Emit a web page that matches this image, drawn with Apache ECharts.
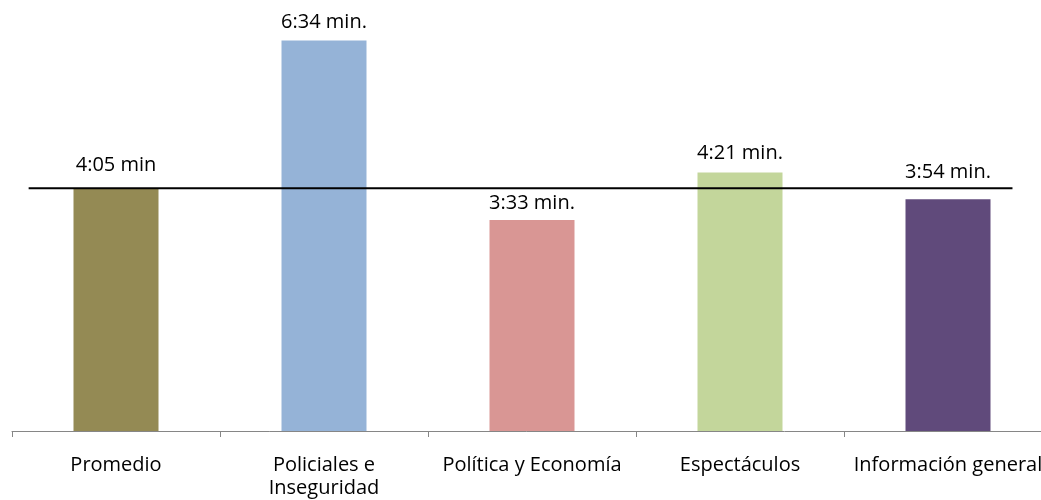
<!DOCTYPE html>
<html>
<head>
<meta charset="utf-8">
<script src="https://cdn.jsdelivr.net/npm/echarts@6/dist/echarts.min.js"></script>
<style>
html,body{margin:0;padding:0;background:#fff;}
#chart{width:1041px;height:500px;}
</style>
</head>
<body>
<div id="chart"></div>
<script>
const categories = ['Promedio', 'Policiales e\nInseguridad', 'Política y Economía', 'Espectáculos', 'Información general'];
const secondsValues = [245, 394, 213, 261, 234];
const valueLabels = ['4:05 min', '6:34 min.', '3:33 min.', '4:21 min.', '3:54 min.'];
const averageLineX = [0.08, 4.81];
const averageLineY = [245, 245];
const barColors = ['#948A54', '#95B3D7', '#D99694', '#C3D69B', '#604A7B'];
const labelDistances = [13, 8, 7, 9, 17];

const chart = echarts.init(document.getElementById('chart'));
const font = 'Open Sans';
chart.setOption({
  animation: false,
  backgroundColor: '#ffffff',
  textStyle: { fontFamily: font },
  grid: { left: 12, top: 0, width: 1040, height: 431, containLabel: false, outerBoundsMode: 'none' },
  xAxis: [
    {
      type: 'category',
      data: categories,
      axisLine: { lineStyle: { color: '#868686', width: 1 } },
      axisTick: { show: true, length: 6, lineStyle: { color: '#868686' } },
      axisLabel: { color: '#000', fontSize: 20, fontFamily: font, margin: 23, lineHeight: 23, interval: 0, hideOverlap: false },
      splitLine: { show: false }
    },
    {
      type: 'value', min: 0, max: 5, show: false, position: 'bottom'
    }
  ],
  yAxis: { type: 'value', min: 0, max: 435, show: false, splitLine: { show: false } },
  series: [
    {
      type: 'bar',
      barWidth: 85,
      data: secondsValues.map((v, i) => ({
        value: v,
        itemStyle: { color: barColors[i] },
        label: { distance: labelDistances[i] }
      })),
      label: {
        show: true, position: 'top', color: '#000', fontSize: 20, fontFamily: font,
        formatter: p => valueLabels[p.dataIndex]
      },
      z: 2
    },
    {
      type: 'line',
      xAxisIndex: 1,
      data: averageLineX.map((x, i) => [x, averageLineY[i]]),
      symbol: 'none',
      lineStyle: { color: '#000', width: 2 },
      z: 3
    }
  ]
});
</script>
</body>
</html>
